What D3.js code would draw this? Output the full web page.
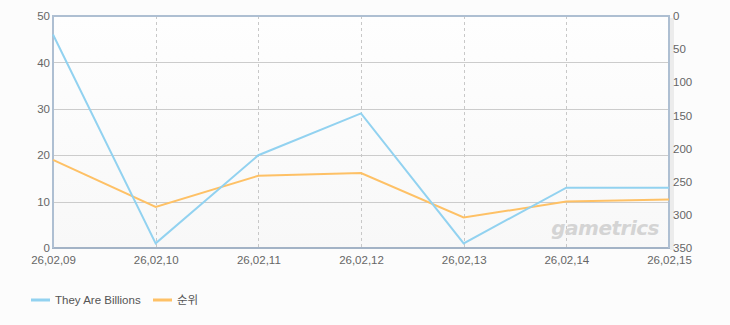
<html>
<head>
<style>
  body { margin: 0; background: #fcfcfc; font-family: "Liberation Sans", sans-serif; }
</style>
<script src="https://cdn.jsdelivr.net/npm/d3@7"></script>
</head>
<body>
<svg id="chart"></svg>
<script>
let dates = ["26,02,09", "26,02,10", "26,02,11", "26,02,12", "26,02,13", "26,02,14", "26,02,15"]
let players = [46, 1, 20, 29, 1, 13, 13]
let ranks = [217, 288, 241, 237, 304, 280, 277]
let leftTicks = [0, 10, 20, 30, 40, 50]
let rightTicks = [0, 50, 100, 150, 200, 250, 300, 350]
let seriesNames = ["They Are Billions", "순위"]

let width = 730, height = 325
let margin = { top: 16, left: 53, right: 61, bottom: 77 }
let bodyW = width - margin.left - margin.right
let bodyH = height - margin.top - margin.bottom
let font = "Liberation Sans, Noto Sans CJK KR, sans-serif"

let svg = d3.select("#chart").attr("width", width).attr("height", height)

let x = d3.scalePoint().domain(dates).range([0, bodyW])
let yL = d3.scaleLinear().domain([0, 50]).range([bodyH, 0])
let yR = d3.scaleLinear().domain([0, 350]).range([0, bodyH])

let defs = svg.append("defs")
let grad = defs.append("linearGradient").attr("id", "bg").attr("x1", 0).attr("y1", 0).attr("x2", 0).attr("y2", 1)
grad.append("stop").attr("offset", "0%").attr("stop-color", "#fefefe")
grad.append("stop").attr("offset", "100%").attr("stop-color", "#f8f8f8")

let body = svg.append("g").attr("transform", `translate(${margin.left},${margin.top})`)

// soft shadow on the right
body.append("rect").attr("x", bodyW + 1).attr("y", 2).attr("width", 4).attr("height", bodyH)
  .attr("fill", "#ececec")
body.append("rect").attr("width", bodyW).attr("height", bodyH).attr("fill", "url(#bg)")

// horizontal grid
body.selectAll(".hg").data(leftTicks.slice(1, -1)).enter().append("line")
  .attr("x1", 0).attr("x2", bodyW)
  .attr("y1", d => Math.round(yL(d)) + 0.5).attr("y2", d => Math.round(yL(d)) + 0.5)
  .attr("stroke", "#cccccc")

// vertical dashed grid
body.selectAll(".vg").data(dates.slice(1, -1)).enter().append("line")
  .attr("x1", d => Math.round(x(d)) + 0.5).attr("x2", d => Math.round(x(d)) + 0.5)
  .attr("y1", 0).attr("y2", bodyH)
  .attr("stroke", "#c8c8c8").attr("stroke-dasharray", "3,3")

// watermark
body.append("text").attr("x", bodyW - 10).attr("y", bodyH - 13)
  .attr("text-anchor", "end").attr("font-family", "DejaVu Sans").attr("font-weight", "bold")
  .attr("font-style", "italic").attr("font-size", 20).attr("fill", "#d4d4d4")
  .attr("letter-spacing", "-0.5").text("gametrics")

// frame
let frameColor = "#aebfd2"
body.append("line").attr("x1", -1).attr("x2", bodyW + 1).attr("y1", 0).attr("y2", 0)
  .attr("stroke", frameColor).attr("stroke-width", 2)
body.append("line").attr("x1", -1).attr("x2", bodyW + 1).attr("y1", bodyH).attr("y2", bodyH)
  .attr("stroke", "#a3b3c6").attr("stroke-width", 2)
body.append("line").attr("x1", 0).attr("x2", 0).attr("y1", 0).attr("y2", bodyH)
  .attr("stroke", frameColor).attr("stroke-width", 2)
body.append("line").attr("x1", bodyW).attr("x2", bodyW).attr("y1", 0).attr("y2", bodyH)
  .attr("stroke", frameColor).attr("stroke-width", 2)

// lines
let blueLine = d3.line().x((d, i) => x(dates[i])).y(d => yL(d))
let orangeLine = d3.line().x((d, i) => x(dates[i])).y(d => yR(d))
body.append("path").datum(ranks).attr("d", orangeLine).attr("fill", "none")
  .attr("stroke", "#fec166").attr("stroke-width", 2)
body.append("path").datum(players).attr("d", blueLine).attr("fill", "none")
  .attr("stroke", "#92d2f0").attr("stroke-width", 2)

// axes
let axisL = d3.axisLeft(yL).tickValues(leftTicks).tickSize(0).tickPadding(3)
let gL = body.append("g").call(axisL)
let axisR = d3.axisRight(yR).tickValues(rightTicks).tickSize(0).tickPadding(3)
let gR = body.append("g").attr("transform", `translate(${bodyW},0)`).call(axisR)
let axisB = d3.axisBottom(x).tickSize(0).tickPadding(8)
let gB = body.append("g").attr("transform", `translate(0,${bodyH})`).call(axisB)
;[gL, gR, gB].forEach(g => {
  g.select(".domain").remove()
  g.selectAll("text").attr("fill", "#666").attr("font-size", 11.5).attr("font-family", font)
})
gR.selectAll("text").attr("dx", 1)

// legend
let colors = ["#92d2f0", "#fec166"]
let legendX = [31, 153]
seriesNames.forEach((name, i) => {
  let g = svg.append("g").attr("transform", `translate(${legendX[i]},300)`)
  g.append("line").attr("x1", 0).attr("x2", 19).attr("y1", 0).attr("y2", 0)
    .attr("stroke", colors[i]).attr("stroke-width", 3)
  g.append("text").attr("x", 24).attr("y", 4).attr("font-size", 11.5).attr("fill", "#555")
    .attr("font-family", font).text(name)
})
</script>
</body>
</html>
